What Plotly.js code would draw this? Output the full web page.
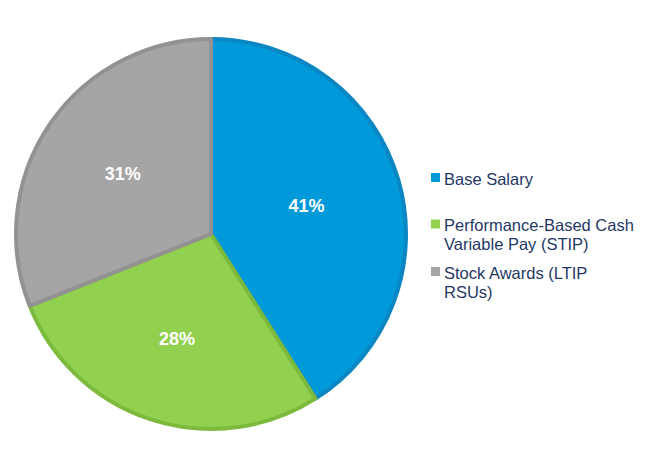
<!DOCTYPE html>
<html>
<head>
<meta charset="utf-8">
<script src="https://cdn.plot.ly/plotly-3.0.1.min.js"></script>
<style>html,body{margin:0;padding:0;background:#fff;}#chart{width:652px;height:468px;}</style>
</head>
<body>
<div id="chart"></div>
<script>
const categories = ["Base Salary", "Performance-Based Cash Variable Pay (STIP)", "Stock Awards (LTIP RSUs)"];
const legendLines = [["Base Salary"], ["Performance-Based Cash", "Variable Pay (STIP)"], ["Stock Awards (LTIP", "RSUs)"]];
const values = [41, 28, 31];
const fillColors = ["#0099DA", "#92D050", "#A5A5A5"];
const lineColors = ["#0A86C2", "#7CBA3E", "#929292"];

const W = 652, H = 468;
const FONT = "Arial, 'Liberation Sans', sans-serif";

const data = [{
  type: "pie",
  labels: categories,
  values: values,
  sort: false,
  direction: "clockwise",
  rotation: 0,
  texttemplate: "%{value}%",
  textposition: "inside",
  insidetextorientation: "horizontal",
  insidetextfont: {family: FONT, size: 18, color: "#ffffff", weight: "bold"},
  marker: {colors: fillColors, line: {color: lineColors, width: 4}},
  domain: {x: [16/W, 406/W], y: [38/H, 430/H]},
  hoverinfo: "label+percent",
  showlegend: false
}];

// custom legend built from the category arrays
const itemTop = [177.5, 224, 271.5];   // pixel centre of first text line for each item
const lineGap = 19;
const annotations = [];
const shapes = [];
legendLines.forEach((lines, i) => {
  lines.forEach((txt, j) => {
    annotations.push({
      xref: "paper", yref: "paper",
      x: 441.5 / W, y: 1 - (itemTop[i] + 1 + j * lineGap) / H,
      xanchor: "left", yanchor: "middle",
      text: txt, showarrow: false,
      font: {family: FONT, size: 16.5, color: "#1F3864"}
    });
  });
  shapes.push({
    type: "rect", xref: "paper", yref: "paper",
    x0: 431 / W, x1: 440 / W,
    y0: 1 - (itemTop[i] + 4.5) / H, y1: 1 - (itemTop[i] - 4.5) / H,
    fillcolor: fillColors[i], line: {width: 0}
  });
});

const layout = {
  width: W, height: H,
  margin: {l: 0, r: 0, t: 0, b: 0},
  paper_bgcolor: "#ffffff",
  showlegend: false,
  annotations: annotations,
  shapes: shapes
};

Plotly.newPlot("chart", data, layout, {displayModeBar: false, staticPlot: true});
</script>
</body>
</html>
